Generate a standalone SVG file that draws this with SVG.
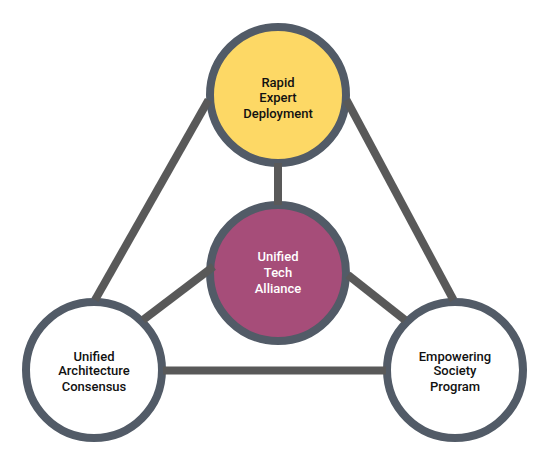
<svg xmlns="http://www.w3.org/2000/svg" width="545" height="467" viewBox="0 0 545 467">
  <style>
    .node { stroke: #525b67; stroke-width: 8; }
    .edge { stroke: #595959; stroke-width: 8; fill: none; }
    .lbl { font-family: Roboto, "Liberation Sans", sans-serif; font-size: 13px; font-weight: 500; text-anchor: middle; fill: #111111; }
    .lbl-w { fill: #ffffff; }
  </style>
  <rect width="545" height="467" fill="#ffffff"/>
  <g id="node-rapid">
    <circle class="node" cx="278" cy="95" r="68" fill="#fdd865"/>
    <text class="lbl" x="278" y="86.5">Rapid</text>
    <text class="lbl" x="278" y="102">Expert</text>
    <text class="lbl" x="278" y="117.5">Deployment</text>
  </g>
  <g id="node-alliance">
    <circle class="node" cx="278" cy="273" r="68" fill="#a64d79"/>
    <text class="lbl lbl-w" x="278" y="261">Unified</text>
    <text class="lbl lbl-w" x="278" y="277">Tech</text>
    <text class="lbl lbl-w" x="278" y="292.5">Alliance</text>
  </g>
  <g id="node-architecture">
    <circle class="node" cx="94" cy="370" r="68" fill="#ffffff"/>
    <text class="lbl" x="94" y="360.5">Unified</text>
    <text class="lbl" x="94" y="375">Architecture</text>
    <text class="lbl" x="94" y="391">Consensus</text>
  </g>
  <g id="node-society">
    <circle class="node" cx="455" cy="370" r="68" fill="#ffffff"/>
    <text class="lbl" x="455" y="360.5">Empowering</text>
    <text class="lbl" x="455" y="375">Society</text>
    <text class="lbl" x="455" y="391">Program</text>
  </g>
  <g id="connectors">
    <line class="edge" x1="208.5" y1="100" x2="95" y2="300"/>
    <line class="edge" x1="346.5" y1="100" x2="453.5" y2="300"/>
    <line class="edge" x1="278" y1="163" x2="278" y2="205"/>
    <line class="edge" x1="213.5" y1="266.5" x2="143" y2="320"/>
    <line class="edge" x1="348" y1="275" x2="405" y2="320"/>
    <line class="edge" x1="163" y1="370.5" x2="386" y2="370.5"/>
  </g>
</svg>
